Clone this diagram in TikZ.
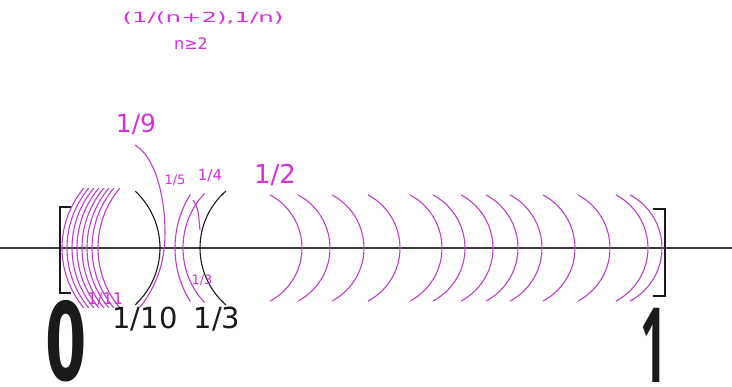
\documentclass[tikz,border=0pt]{standalone}
\usepackage{fontspec}
\usepackage{graphicx}
\setmainfont{DejaVu Sans}
\newfontfamily\digitfont{Open Sans}
\usetikzlibrary{positioning}
\definecolor{ink}{HTML}{1A1A1A}
\definecolor{mag}{HTML}{BE3CCC}
\definecolor{magtext}{HTML}{D62FDB}

\begin{document}
\begin{tikzpicture}[x=1pt,y=-1pt,
  axisline/.style={draw=ink!85,line width=1.4pt},
  bracket/.style={draw=ink,line width=1.3pt},
  marc/.style={draw=mag,line width=1.1pt},
  karc/.style={draw=ink,line width=1.1pt},
  lbl/.style={inner sep=0pt,text=magtext},
  klbl/.style={inner sep=0pt,text=ink}
]
\useasboundingbox (0,0) rectangle (732,387);
% number line and the brackets of [0,1]
\draw[axisline] (0,248) -- (732,248);
\draw[bracket] (71,207) -- (60,207) -- (60,293) -- (71,293);
\draw[bracket] (653,209) -- (665,209) -- (665,296) -- (653,296);
% right ends of the intervals
\foreach \x in {302,330,364,400,442,465,493,518,542,575,610,648,662}
  \draw[marc] ({\x-60},248) ++(-62:60) arc[start angle=-62,end angle=62,radius=60];
% left ends piling up at 0
\foreach \x in {62,67,72,77,82,87,92,98}
  \draw[marc] ({\x+93},248) ++(140:93) arc[start angle=140,end angle=220,radius=93];
\draw[marc] ({175+101},248) ++(148:101) arc[start angle=148,end angle=212,radius=101];
\draw[marc] ({183+80},248) ++(137:80) arc[start angle=137,end angle=223,radius=80];
\draw[marc] (135,145) .. controls (160,160) and (168,215) .. (164,250)
  .. controls (161,275) and (150,295) .. (140,307);
\draw[marc] (193,200) .. controls (198,208) .. (200,230);
% the intervals (1/10,...) and (1/3,...)
\draw[karc] ({160-77.5},248) ++(-47:77.5) arc[start angle=-47,end angle=47,radius=77.5];
\draw[karc] ({200+75.5},248) ++(131:75.5) arc[start angle=131,end angle=229,radius=75.5];
% labels
\node[lbl,font=\fontsize{14}{14}\selectfont] (title) at (203,18) {\scalebox{1.75}[1]{(1/(n+2),1/n)}};
\node[lbl,font=\fontsize{16}{16}\selectfont] (cond) at (191,44) {n≥2};
\node[lbl,font=\fontsize{25}{25}\selectfont] (ninth) at (136,124) {1/9};
\node[lbl,font=\fontsize{26}{26}\selectfont] (half) at (275,175) {1/2};
\node[lbl,font=\fontsize{15}{15}\selectfont] (quarter) at (210,176) {1/4};
\node[lbl,font=\fontsize{13}{13}\selectfont] (fifth) at (175,180) {1/5};
\node[lbl,font=\fontsize{16}{16}\selectfont] (eleventh) at (105,299) {1/11};
\node[lbl,font=\fontsize{13}{13}\selectfont] (third) at (202,280) {1/3};
\node[klbl,font=\fontsize{29}{29}\selectfont] (tenthb) at (145,319) {1/10};
\node[klbl,font=\fontsize{29}{29}\selectfont] (thirdb) at (217,319) {1/3};
\node[klbl,font=\bfseries\fontsize{108}{108}\selectfont] (zero) at (66,341) {\scalebox{0.55}[1]{0}};
\node[klbl,font=\digitfont\bfseries\fontsize{104}{104}\selectfont] (one) at (654,345) {\scalebox{0.45}[1]{1}};
\end{tikzpicture}
\end{document}
